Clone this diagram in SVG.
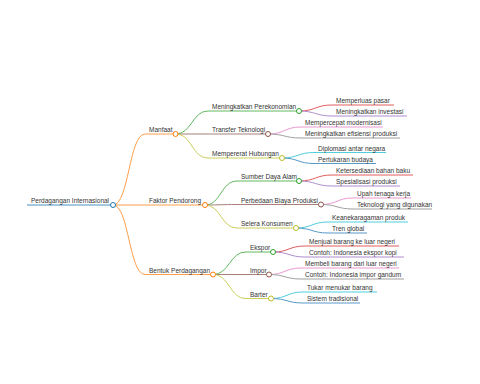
<svg xmlns="http://www.w3.org/2000/svg" width="480" height="384" viewBox="0 0 480 384">
<style>
text{font-family:"Liberation Sans",Arial,sans-serif;font-size:6.5px;fill:#333}
path{fill:none;stroke-width:1}
circle{fill:#fff;stroke-width:1}
.b{stroke:#1f77b4}.o{stroke:#ff7f0e}.g{stroke:#2ca02c}.r{stroke:#d62728}.p{stroke:#9467bd}
.br{stroke:#8c564b}.pk{stroke:#e377c2}.gy{stroke:#7f7f7f}.ol{stroke:#bcbd22}.c{stroke:#17becf}
</style>
<rect width="480" height="384" fill="#fff"/>
<g id="connectors" opacity="0.75">
<path class="o" d="M113 205C129 205 129 134 145 134"/>
<path class="o" d="M113 205H145"/>
<path class="o" d="M113 205C129 205 129 274.5 145 274.5"/>
<path class="g" d="M175.5 134C192 134 192 111 208 111"/>
<path class="br" d="M175.5 134H208"/>
<path class="ol" d="M175.5 134C192 134 192 158 208 158"/>
<path class="g" d="M205 205C221 205 221 181 237 181"/>
<path class="br" d="M205 205C221 205 221 204.5 237 204.5"/>
<path class="ol" d="M205 205C221 205 221 228 237 228"/>
<path class="g" d="M213 274.5C229.5 274.5 229.5 252 246 252"/>
<path class="br" d="M213 274.5H246"/>
<path class="ol" d="M213 274.5C229.5 274.5 229.5 298.5 246 298.5"/>
<path class="r" d="M299 111C315.5 111 315.5 105 332 105"/>
<path class="p" d="M299 111C315.5 111 315.5 116 332 116"/>
<path class="pk" d="M268 134C284.5 134 284.5 127 301 127"/>
<path class="gy" d="M268 134C284.5 134 284.5 138 301 138"/>
<path class="c" d="M282 158C298 158 298 152.5 314 152.5"/>
<path class="b" d="M282 158C298 158 298 163.5 314 163.5"/>
<path class="r" d="M299 181C315.5 181 315.5 175 332 175"/>
<path class="p" d="M299 181C315.5 181 315.5 186 332 186"/>
<path class="pk" d="M321 204.5C337 204.5 337 198 353 198"/>
<path class="gy" d="M321 204.5C337 204.5 337 209 353 209"/>
<path class="c" d="M296 228C312 228 312 222 328 222"/>
<path class="b" d="M296 228C312 228 312 233 328 233"/>
<path class="r" d="M273 252C289 252 289 246 305 246"/>
<path class="p" d="M273 252C289 252 289 257 305 257"/>
<path class="pk" d="M269 274.5C285 274.5 285 268 301 268"/>
<path class="gy" d="M269 274.5C285 274.5 285 279 301 279"/>
<path class="c" d="M271 298.5C287 298.5 287 292 303 292"/>
<path class="b" d="M271 298.5C287 298.5 287 303 303 303"/>
</g>
<g id="n-root"><path class="b" d="M27 205H113" opacity="0.8"/><circle class="b" cx="113" cy="205" r="2.5"/><text x="31" y="203">Perdagangan Internasional</text></g>
<g id="n-manfaat"><path class="o" d="M145 134H175.5" opacity="0.75"/><circle class="o" cx="175.5" cy="134" r="2.5"/><text x="149" y="132">Manfaat</text></g>
<g id="n-faktor"><path class="o" d="M145 205H205" opacity="0.75"/><circle class="o" cx="205" cy="205" r="2.5"/><text x="149" y="203">Faktor Pendorong</text></g>
<g id="n-bentuk"><path class="o" d="M145 274.5H213" opacity="0.75"/><circle class="o" cx="213" cy="274.5" r="2.5"/><text x="149" y="272.5">Bentuk Perdagangan</text></g>
<g id="n-perekonomian"><path class="g" d="M208 111H299" opacity="0.75"/><circle class="g" cx="299" cy="111" r="2.5"/><text x="212" y="109">Meningkatkan Perekonomian</text></g>
<g id="n-transfer"><path class="br" d="M208 134H268" opacity="0.75"/><circle class="br" cx="268" cy="134" r="2.5"/><text x="212" y="132">Transfer Teknologi</text></g>
<g id="n-hubungan"><path class="ol" d="M208 158H282" opacity="0.75"/><circle class="ol" cx="282" cy="158" r="2.5"/><text x="212" y="156">Mempererat Hubungan</text></g>
<g id="n-sda"><path class="g" d="M237 181H299" opacity="0.75"/><circle class="g" cx="299" cy="181" r="2.5"/><text x="241" y="179">Sumber Daya Alam</text></g>
<g id="n-biaya"><path class="br" d="M237 204.5H321" opacity="0.75"/><circle class="br" cx="321" cy="204.5" r="2.5"/><text x="241" y="202.5">Perbedaan Biaya Produksi</text></g>
<g id="n-selera"><path class="ol" d="M237 228H296" opacity="0.75"/><circle class="ol" cx="296" cy="228" r="2.5"/><text x="241" y="226">Selera Konsumen</text></g>
<g id="n-ekspor"><path class="g" d="M246 252H273" opacity="0.75"/><circle class="g" cx="273" cy="252" r="2.5"/><text x="250" y="250">Ekspor</text></g>
<g id="n-impor"><path class="br" d="M246 274.5H269" opacity="0.75"/><circle class="br" cx="269" cy="274.5" r="2.5"/><text x="250" y="272.5">Impor</text></g>
<g id="n-barter"><path class="ol" d="M246 298.5H271" opacity="0.75"/><circle class="ol" cx="271" cy="298.5" r="2.5"/><text x="250" y="296.5">Barter</text></g>
<g id="n-pasar"><path class="r" d="M332 105H394" opacity="0.75"/><text x="336" y="103">Memperluas pasar</text></g>
<g id="n-investasi"><path class="p" d="M332 116H407" opacity="0.75"/><text x="336" y="114">Meningkatkan investasi</text></g>
<g id="n-modernisasi"><path class="pk" d="M301 127H383" opacity="0.75"/><text x="305" y="125">Mempercepat modernisasi</text></g>
<g id="n-efisiensi"><path class="gy" d="M301 138H400" opacity="0.75"/><text x="305" y="136">Meningkatkan efisiensi produksi</text></g>
<g id="n-diplomasi"><path class="c" d="M314 152.5H386" opacity="0.75"/><text x="318" y="150.5">Diplomasi antar negara</text></g>
<g id="n-budaya"><path class="b" d="M314 163.5H376" opacity="0.75"/><text x="318" y="161.5">Pertukaran budaya</text></g>
<g id="n-bahanbaku"><path class="r" d="M332 175H413" opacity="0.75"/><text x="336" y="173">Ketersediaan bahan baku</text></g>
<g id="n-spesialisasi"><path class="p" d="M332 186H400" opacity="0.75"/><text x="336" y="184">Spesialisasi produksi</text></g>
<g id="n-upah"><path class="pk" d="M353 198H411" opacity="0.75"/><text x="357" y="196">Upah tenaga kerja</text></g>
<g id="n-teknologi"><path class="gy" d="M353 209H432" opacity="0.75"/><text x="357" y="207">Teknologi yang digunakan</text></g>
<g id="n-keanekaragaman"><path class="c" d="M328 222H408" opacity="0.75"/><text x="332" y="220">Keanekaragaman produk</text></g>
<g id="n-tren"><path class="b" d="M328 233H367" opacity="0.75"/><text x="332" y="231">Tren global</text></g>
<g id="n-menjual"><path class="r" d="M305 246H399" opacity="0.75"/><text x="309" y="244">Menjual barang ke luar negeri</text></g>
<g id="n-kopi"><path class="p" d="M305 257H404" opacity="0.75"/><text x="309" y="255">Contoh: Indonesia ekspor kopi</text></g>
<g id="n-membeli"><path class="pk" d="M301 268H399" opacity="0.75"/><text x="305" y="266">Membeli barang dari luar negeri</text></g>
<g id="n-gandum"><path class="gy" d="M301 279H404" opacity="0.75"/><text x="305" y="277">Contoh: Indonesia impor gandum</text></g>
<g id="n-tukar"><path class="c" d="M303 292H377" opacity="0.75"/><text x="307" y="290">Tukar menukar barang</text></g>
<g id="n-sistem"><path class="b" d="M303 303H360" opacity="0.75"/><text x="307" y="301">Sistem tradisional</text></g>
</svg>
